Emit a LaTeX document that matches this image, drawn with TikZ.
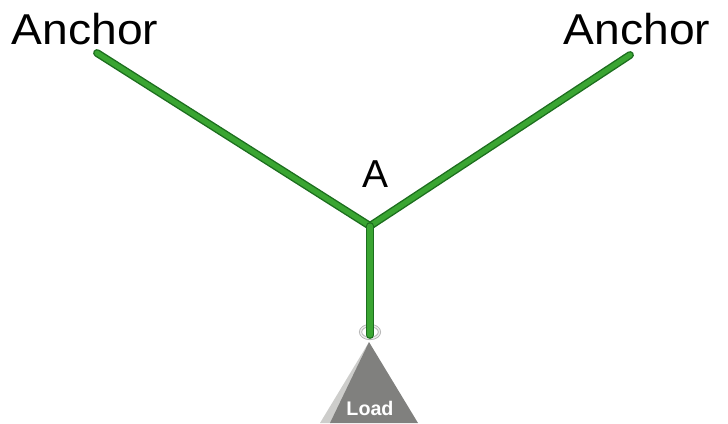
\documentclass[tikz,border=0pt]{standalone}
\usepackage{fontspec}
\setmainfont{Liberation Sans}
\usetikzlibrary{positioning}
\definecolor{ropegreen}{RGB}{58,165,50}
\definecolor{ropeedge}{RGB}{28,110,30}
\definecolor{weightgray}{RGB}{128,128,126}
\definecolor{weightlight}{RGB}{205,205,203}
\tikzstyle{rope} = [draw=ropeedge, double=ropegreen, double distance=3.6pt, line width=1pt, line cap=round, line join=round]
\tikzstyle{tag} = [inner sep=0pt, anchor=base, font=\fontsize{30.7}{34}\selectfont]
\tikzstyle{knotlabel} = [inner sep=0pt, anchor=base, font=\fontsize{27.7}{31}\selectfont]
\tikzstyle{weightlabel} = [inner sep=0pt, anchor=base, text=white, font=\fontsize{14}{16}\selectfont\bfseries]

\begin{document}
\begin{tikzpicture}[x=0.025cm, y=-0.025cm]
	\useasboundingbox (0,0) rectangle (728,423);
	% rope ends and the knot
	\coordinate (EndLeft) at (97,53);
	\coordinate (EndRight) at (630,55);
	\coordinate (Knot) at (370,226);
	\coordinate (Ring) at (370,332);
	\node (AnchorLeft) [tag] at (85,44) {\scalebox{1.07}[1]{Anchor}};
	\node (AnchorRight) [tag] at (637,44) {\scalebox{1.07}[1]{Anchor}};
	\node (PointA) [knotlabel] at (375,187) {A};
	% hanging weight
	\fill [weightlight] (369,342) -- (320,423) -- (331,423) -- cycle;
	\fill [weightgray] (369,342) -- (330,423) -- (418,423) -- cycle;
	\node (Load) [weightlabel] at (370,415) {Load};
	\draw [gray!60, line width=2.2pt] (Ring) ellipse [x radius=9.5, y radius=6.5];
	\draw [white!85!gray, line width=1pt] (Ring) ellipse [x radius=9.5, y radius=6.5];
	\draw [rope] (EndLeft) -- (Knot) -- (EndRight);
	\draw [rope] (Knot) -- (370,335);
\end{tikzpicture}
\end{document}
